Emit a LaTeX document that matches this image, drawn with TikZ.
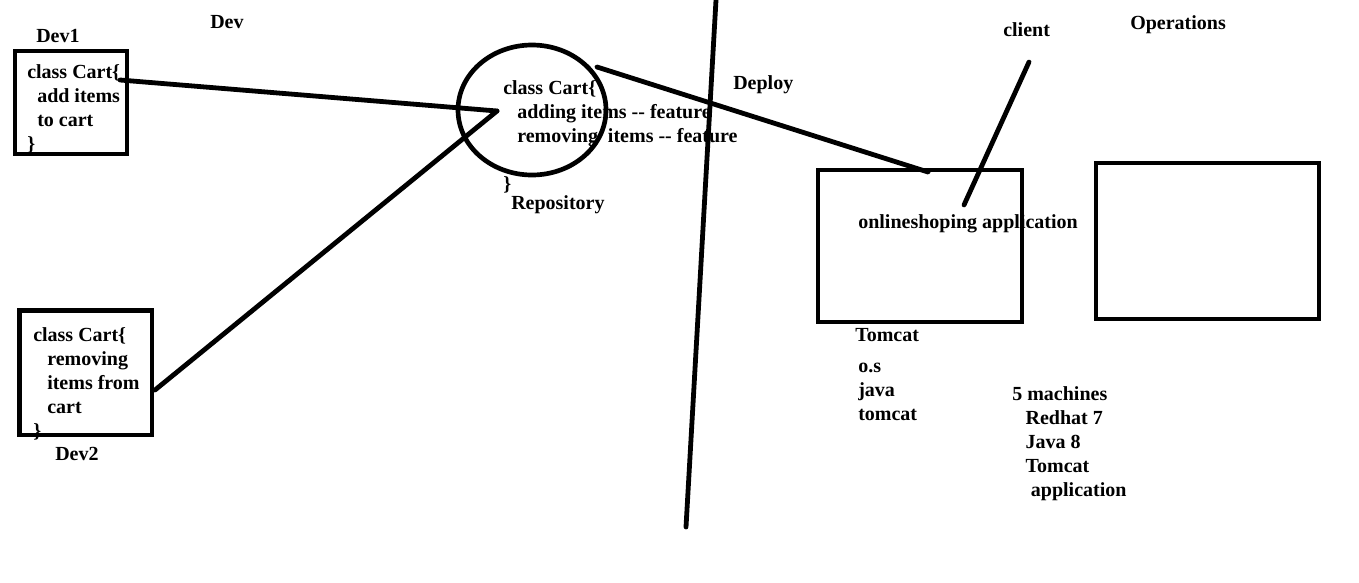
\documentclass[tikz,border=0pt]{standalone}
\usepackage{fontspec}
\setmainfont{Liberation Serif}
\usetikzlibrary{shapes.geometric}
\begin{document}
\begin{tikzpicture}[x=0.75pt,y=-0.75pt,
  box/.style={draw,line width=3.5pt,rectangle,inner sep=0,outer sep=0},
  wire/.style={line width=3.6pt,line cap=round},
  txt/.style={anchor=base west,inner sep=0,align=left,font=\fontsize{15}{18}\selectfont\bfseries}]
\useasboundingbox (0,0) rectangle (1359,582);
% developers
\node[box,minimum width=84pt,minimum height=77.25pt] (dev1) at (71,102.5) {};
\node[box,minimum width=99.4pt,minimum height=93.4pt] (dev2) at (85.75,372.75) {};
\node[txt] (dev1code) at (27,150) {class Cart\{\\\hspace{7.5pt}add items\\\hspace{7.5pt}to cart\\\}};
\node[txt] (dev2code) at (33,437) {class Cart\{\\\hspace{10.5pt}removing\\\hspace{10.5pt}items from\\\hspace{10.5pt}cart\\\}};
\node[txt] (dev1lbl) at (36,42) {Dev1};
\node[txt] (dev2lbl) at (55,460) {Dev2};
\node[txt] (devlbl) at (210,28) {Dev};
% repository
\node[draw,ellipse,line width=3.5pt,inner sep=0,minimum width=111pt,minimum height=97.5pt] (repo) at (532,110) {};
\node[txt] (repocode) at (503,142) {class Cart\{\\\hspace{10.5pt}adding items -{}- feature\\\hspace{10.5pt}removing\ \ items -{}- feature};
\node[txt] (repoclose) at (503,190) {\}};
\node[txt] (repolbl) at (511,209) {Repository};
\coordinate (hub) at (497,111);
\coordinate (d1out) at (120,80);
\coordinate (d2out) at (155,390);
\coordinate (repoout) at (597,67);
\draw[wire] (d1out) -- (hub);
\draw[wire] (d2out) -- (hub);
% deploy split
\coordinate (splittop) at (716,0);
\coordinate (splitbot) at (686,527);
\draw[wire] (splittop) -- (splitbot);
\node[txt] (deploylbl) at (733,89) {Deploy};
% operations
\node[box,minimum width=153pt,minimum height=114pt] (tomcatbox) at (920,246) {};
\node[box,minimum width=167.25pt,minimum height=117pt] (opsbox) at (1207.5,241) {};
\coordinate (tomcatin) at (928,172);
\draw[wire] (repoout) -- (tomcatin);
\node[txt] (applbl) at (858,228) {onlineshoping application};
\node[txt] (clientlbl) at (1003,36) {client};
\coordinate (clientend) at (1029,62);
\coordinate (append) at (964,205);
\draw[wire] (clientend) -- (append);
\node[txt] (opslbl) at (1130,29) {Operations};
\node[txt] (tomcatlbl) at (855,341) {Tomcat};
\node[txt] (stack) at (858,420) {o.s\\java\\tomcat};
\node[txt] (machines) at (1012,496) {5 machines\\\hspace{10pt}Redhat 7\\\hspace{10pt}Java 8\\\hspace{10pt}Tomcat\\\hspace{14pt}application};
\end{tikzpicture}
\end{document}
